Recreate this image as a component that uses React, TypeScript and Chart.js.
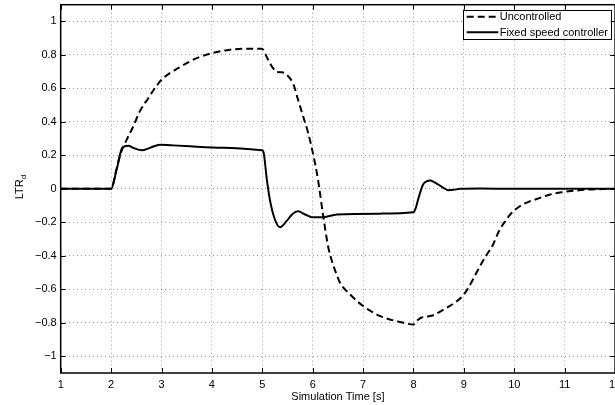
import React, { useEffect, useRef } from "react";
import { Chart, registerables } from "chart.js";

Chart.register(...registerables);

const xTicks = [1, 2, 3, 4, 5, 6, 7, 8, 9, 10, 11, 12];
const yTicks = [-1, -0.8, -0.6, -0.4, -0.2, 0, 0.2, 0.4, 0.6, 0.8, 1];

const seriesLabels = ["Uncontrolled", "Fixed speed controller"];
const xTitle = "Simulation Time [s]";
const yTitleMain = "LTR";
const yTitleSub = "d";

const uncontrolledTime = [
  1, 2, 2.1, 2.2, 2.31, 2.44, 2.57, 2.74, 2.87, 3.0, 3.17, 3.33, 3.5, 3.7, 4.0,
  4.36, 4.69, 4.99, 5.1, 5.19, 5.29, 5.39, 5.52, 5.62, 5.71, 5.81, 5.91, 6.01,
  6.1, 6.21, 6.31, 6.38, 6.46, 6.54, 6.74, 7.0, 7.34, 7.73, 8.0, 8.08, 8.15,
  8.28, 8.39, 8.52, 8.66, 8.82, 8.99, 9.09, 9.2, 9.32, 9.45, 9.58, 9.68, 9.82,
  9.95, 10.11, 10.31, 10.51, 10.71, 10.94, 11.17, 11.44, 11.83, 12,
];
const uncontrolledLtr = [
  0, 0, 0.11, 0.22, 0.294, 0.373, 0.463, 0.543, 0.602, 0.652, 0.692, 0.721,
  0.751, 0.781, 0.811, 0.831, 0.837, 0.837, 0.78, 0.731, 0.698, 0.696, 0.671,
  0.622, 0.532, 0.433, 0.334, 0.205, 0.065, -0.165, -0.35, -0.43, -0.5, -0.56,
  -0.63, -0.7, -0.76, -0.795, -0.81, -0.785, -0.77, -0.763, -0.755, -0.735,
  -0.71, -0.68, -0.635, -0.59, -0.53, -0.461, -0.395, -0.332, -0.262, -0.193,
  -0.143, -0.104, -0.074, -0.054, -0.034, -0.02, -0.012, -0.005, -0.001, 0,
];

const fixedTime = [
  1, 2, 2.11, 2.22, 2.34, 2.44, 2.61, 2.77, 2.97, 3.2, 3.57, 4.23, 4.99, 5.02,
  5.09, 5.15, 5.25, 5.35, 5.48, 5.6, 5.71, 5.83, 5.98, 6.21, 6.48, 7.34, 8.0,
  8.05, 8.1, 8.19, 8.26, 8.33, 8.41, 8.49, 8.6, 8.69, 8.8, 8.92, 9.32, 10, 12,
];
const fixedLtr = [
  0, 0, 0.115, 0.245, 0.258, 0.245, 0.23, 0.245, 0.264, 0.26, 0.254, 0.245,
  0.23, 0.224, 0.055, -0.064, -0.183, -0.229, -0.193, -0.15, -0.134, -0.15,
  -0.169, -0.169, -0.153, -0.148, -0.14, -0.11, -0.054, 0.026, 0.045, 0.05,
  0.04, 0.026, 0.005, -0.008, -0.006, 0, 0.002, 0, 0,
];

const FONT = '"Liberation Sans", Arial, Helvetica, sans-serif';
const DASH = [7, 4];

const fmt = (v: number) => {
  const s = String(Math.round(v * 10) / 10);
  return s.replace("-", "\u2212");
};

const framePlugin = {
  id: "matlabFrame",
  afterDraw(chart: any) {
    const { ctx, chartArea: a, scales } = chart;
    ctx.save();
    // axes box
    ctx.strokeStyle = "#000";
    ctx.lineWidth = 1.5;
    ctx.setLineDash([]);
    ctx.strokeRect(a.left, a.top, a.right - a.left, a.bottom - a.top);
    // inner ticks
    ctx.lineWidth = 1;
    const tl = 5;
    ctx.beginPath();
    for (const v of xTicks) {
      const px = Math.round(scales.x.getPixelForValue(v)) + 0.5;
      ctx.moveTo(px, a.bottom);
      ctx.lineTo(px, a.bottom - tl);
      ctx.moveTo(px, a.top);
      ctx.lineTo(px, a.top + tl);
    }
    for (const v of yTicks) {
      const py = Math.round(scales.y.getPixelForValue(v)) + 0.5;
      ctx.moveTo(a.left, py);
      ctx.lineTo(a.left + tl, py);
      ctx.moveTo(a.right, py);
      ctx.lineTo(a.right - tl, py);
    }
    ctx.stroke();

    // y-axis title with subscript
    ctx.fillStyle = "#000";
    const cy = 187;
    ctx.translate(23, cy);
    ctx.rotate(-Math.PI / 2);
    ctx.font = `11px ${FONT}`;
    const wMain = ctx.measureText(yTitleMain).width;
    ctx.font = `8px ${FONT}`;
    const wSub = ctx.measureText(yTitleSub).width;
    const start = -(wMain + wSub) / 2;
    ctx.textBaseline = "alphabetic";
    ctx.textAlign = "left";
    ctx.font = `11px ${FONT}`;
    ctx.fillText(yTitleMain, start, 0);
    ctx.font = `8px ${FONT}`;
    ctx.fillText(yTitleSub, start + wMain, 3);
    ctx.setTransform(1, 0, 0, 1, 0, 0);

    // legend
    const right = a.right - 4.4;
    const left = right - 148;
    const top = a.top + 5.3;
    const h = 29.3;
    ctx.fillStyle = "#fff";
    ctx.fillRect(left, top, right - left, h);
    ctx.strokeStyle = "#000";
    ctx.lineWidth = 1;
    ctx.strokeRect(Math.round(left) + 0.5, Math.round(top) + 0.5, Math.round(right - left), Math.round(h));
    const rows = [top + 6.8, top + 22.3];
    chart.data.datasets.forEach((ds: any, i: number) => {
      const y = rows[i];
      ctx.beginPath();
      ctx.lineWidth = 2;
      ctx.setLineDash(ds.borderDash || []);
      ctx.moveTo(left + 4, y);
      ctx.lineTo(left + 35.6, y);
      ctx.stroke();
      ctx.setLineDash([]);
      ctx.fillStyle = "#000";
      ctx.font = `11px ${FONT}`;
      ctx.textAlign = "left";
      ctx.textBaseline = "middle";
      ctx.fillText(ds.label, left + 37, y + 0.5);
    });
    ctx.restore();
  },
};

export default function App() {
  const ref = useRef<HTMLCanvasElement | null>(null);

  useEffect(() => {
    if (!ref.current) return;
    const W = 660;
    const chart = new Chart(ref.current, {
      type: "line",
      data: {
        datasets: [
          {
            label: seriesLabels[0],
            data: uncontrolledTime.map((t, i) => ({ x: t, y: uncontrolledLtr[i] })),
            borderColor: "#000",
            borderWidth: 2,
            borderDash: DASH,
            pointRadius: 0,
            fill: false,
            cubicInterpolationMode: "monotone",
          },
          {
            label: seriesLabels[1],
            data: fixedTime.map((t, i) => ({ x: t, y: fixedLtr[i] })),
            borderColor: "#000",
            borderWidth: 2,
            pointRadius: 0,
            fill: false,
            cubicInterpolationMode: "monotone",
          },
        ],
      },
      options: {
        animation: false,
        responsive: false,
        maintainAspectRatio: false,
        devicePixelRatio: 1,
        layout: { padding: { left: 0, top: 4.7, right: W - 615.1, bottom: 0 } },
        plugins: {
          legend: { display: false },
          tooltip: { enabled: false },
        },
        scales: {
          x: {
            type: "linear",
            min: 1,
            max: 12,
            afterBuildTicks: (s: any) => {
              s.ticks = xTicks.map((v) => ({ value: v }));
            },
            afterFit: (s: any) => {
              s.height = 32;
              s.paddingLeft = 0;
              s.paddingRight = 0;
              s.paddingTop = 0;
              s.paddingBottom = 0;
            },
            grid: { color: "rgba(0,0,0,0.4)", lineWidth: 1, drawTicks: false },
            border: { display: false, dash: [1, 3] },
            ticks: {
              color: "#000",
              font: { family: FONT, size: 11 },
              padding: 5,
              maxRotation: 0,
              autoSkip: false,
              callback: (v: any) => fmt(Number(v)),
            },
            title: {
              display: true,
              text: xTitle,
              color: "#000",
              font: { family: FONT, size: 11 },
              padding: { top: 0, bottom: 1 },
            },
          },
          y: {
            type: "linear",
            min: -1.1,
            max: 1.1,
            afterBuildTicks: (s: any) => {
              s.ticks = yTicks.map((v) => ({ value: v }));
            },
            afterFit: (s: any) => {
              s.width = 60.7;
              s.paddingTop = 0;
              s.paddingBottom = 0;
              s.paddingLeft = 0;
              s.paddingRight = 0;
            },
            grid: { color: "rgba(0,0,0,0.4)", lineWidth: 1, drawTicks: false },
            border: { display: false, dash: [1, 3] },
            ticks: {
              color: "#000",
              font: { family: FONT, size: 11 },
              padding: 4,
              autoSkip: false,
              callback: (v: any) => fmt(Number(v)),
            },
          },
        },
      },
      plugins: [framePlugin],
    } as any);
    return () => chart.destroy();
  }, []);

  return (
    <div
      style={{
        position: "fixed",
        left: 0,
        top: 0,
        width: 615,
        height: 405,
        overflow: "hidden",
        background: "#fff",
      }}
    >
      <canvas ref={ref} width={660} height={405} style={{ display: "block", width: 660, height: 405 }} />
    </div>
  );
}
